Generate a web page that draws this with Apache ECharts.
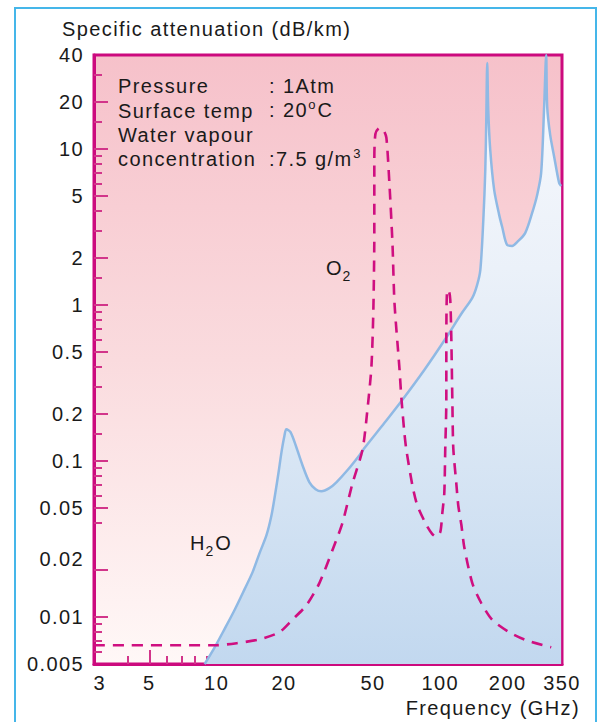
<!DOCTYPE html>
<html>
<head>
<meta charset="utf-8">
<title>Specific attenuation</title>
<script src="https://cdn.jsdelivr.net/npm/echarts@6/dist/echarts.min.js"></script>
<style>
  html, body { margin: 0; padding: 0; background: #fff; }
  #chart { width: 601px; height: 722px; }
  #chart text { letter-spacing: 1.4px; }
</style>
</head>
<body>
<div id="chart"></div>
<script>
// axes: frequency in GHz (x), specific attenuation in dB/km (y), both log
const xLabelValues = [3, 5, 10, 20, 50, 100, 200, 350];
const xMajorTicks = [5, 10, 20, 50, 100, 200, 300];
const xMinorTicks = [4, 6, 7, 8, 9, 15, 30, 40, 60, 70, 80, 90, 150];
const yLabelValues = [0.005, 0.01, 0.02, 0.05, 0.1, 0.2, 0.5, 1, 2, 5, 10, 20, 40];
const yMajorTicks = [0.01, 0.02, 0.05, 0.1, 0.2, 0.5, 1, 2, 5, 10, 20];
const yMinorTicks = [0.006, 0.007, 0.008, 0.009, 0.04, 0.06, 0.07, 0.08, 0.09, 0.15,
  0.3, 0.4, 0.6, 0.7, 0.8, 0.9, 1.5, 3, 4, 6, 7, 8, 9, 15, 30];

// water vapour (solid, filled)
const h2oFreq = [8.84, 9.8, 10.86, 12.03, 13.34, 14.48, 15.56, 16.72, 17.6, 18.3, 18.9,
  19.5, 20.1, 20.5, 21.4, 22.7, 24.2, 26.0, 27.7, 29.4, 31.9, 34.3, 38.5, 43.5, 45.8,
  56.2, 67.6, 84.8, 106, 124, 139, 146, 151, 155.7, 158.9, 160.5, 162.1, 163.8, 167.2,
  174.1, 183.3, 189.1, 199.1, 209.5, 220.6, 239.5, 257.4, 271, 282.4, 291.2, 297.4,
  300.5, 309.9, 323, 339.8, 346.9];
const h2oAtt = [0.005, 0.0064, 0.0084, 0.0111, 0.0151, 0.0194, 0.0257, 0.0336, 0.0451,
  0.0624, 0.0838, 0.114, 0.145, 0.16, 0.153, 0.123, 0.094, 0.073, 0.066, 0.064, 0.067,
  0.073, 0.0875, 0.109, 0.121, 0.175, 0.246, 0.383, 0.614, 0.876, 1.11, 1.34, 1.68, 3.5,
  7.3, 15.3, 35.6, 17.8, 9.85, 5.46, 3.78, 3.16, 2.42, 2.39, 2.53, 2.89, 3.89, 5.07,
  7.02, 18.6, 40, 18.6, 12.3, 8.89, 6.05, 5.79];

// oxygen (dashed)
const o2Freq = [2.83, 10, 12.3, 15.6, 19.1, 21.8, 25.2, 28.8, 33.0, 36.5, 40.5, 44.9,
  47.2, 49.2, 50.2, 50.7, 50.7, 51.3, 53.4, 55.7, 57.4, 59.2, 61.1, 62.4, 65.6, 67.0,
  69.1, 70.5, 75.0, 78.9, 86.6, 92.1, 96.0, 100, 102.1, 104.2, 105.2, 106.4, 106.4,
  107.4, 109.6, 110.8, 111.9, 113.2, 114.3, 117.9, 120.3, 124.2, 128, 139, 152.4,
  170.6, 203.2, 242.1, 313.3];
const o2Att = [0.0066, 0.0066, 0.0068, 0.0072, 0.0080, 0.0096, 0.0119, 0.0165, 0.027,
  0.040, 0.072, 0.118, 0.212, 0.40, 0.93, 2.89, 8.5, 12.5, 13.6, 13.2, 11.8, 6.05, 2.50,
  1.03, 0.40, 0.253, 0.151, 0.118, 0.070, 0.052, 0.039, 0.034, 0.0326, 0.0351, 0.0464,
  0.0624, 0.118, 0.246, 0.597, 1.25, 1.21, 1.08, 0.66, 0.246, 0.121, 0.072, 0.052,
  0.039, 0.028, 0.0165, 0.0123, 0.0096, 0.0080, 0.0071, 0.0064];

const font = "'Liberation Sans', Arial, Helvetica, sans-serif";
const magenta = '#cc0a7e';
const tickColor = '#d2358a';
const ink = '#1a1a1a';

function pairs(xs, ys) {
  return xs.map((x, i) => [x, ys[i]]);
}

const chart = echarts.init(document.getElementById('chart'), null, { renderer: 'svg' });

const xBase = { type: 'log', logBase: 10, min: 2.83, max: 350, position: 'bottom', offset: 0, splitLine: { show: false } };
const yBase = { type: 'log', logBase: 10, min: 0.005, max: 40, position: 'left', offset: 0, splitLine: { show: false } };
const txt = { fontFamily: font, fontSize: 20, color: ink };
// small raised / lowered pieces of the annotations
const mainStyle = { fontFamily: font, fontSize: 20, fill: ink };
const supStyle = (left) => ({ fontFamily: font, fontSize: 13, fill: ink, verticalAlign: 'bottom', padding: [0, 0, 12, left] });
const subStyle = { fontFamily: font, fontSize: 14, fill: ink, verticalAlign: 'top', padding: [16, 2, 0, 1] };

const option = {
  animation: false,
  backgroundColor: '#fff',
  grid: {
    left: 94, right: 39, top: 55, bottom: 58,
    show: true,
    outerBoundsMode: 'none',
    borderColor: magenta,
    borderWidth: 3,
    backgroundColor: {
      type: 'linear', x: 0, y: 0, x2: 0, y2: 1,
      colorStops: [
        { offset: 0, color: '#f6c1ca' },
        { offset: 0.5, color: '#fadbde' },
        { offset: 1, color: '#fff8f7' }
      ]
    }
  },
  xAxis: [
    Object.assign({}, xBase, {
      axisLine: { show: true, onZero: false, lineStyle: { color: magenta, width: 3 } },
      axisTick: { show: true, inside: true, length: 14, customValues: xMajorTicks, lineStyle: { color: tickColor, width: 2 } },
      axisLabel: Object.assign({ customValues: xLabelValues, margin: 9, formatter: v => String(+v.toPrecision(3)) }, txt)
    }),
    Object.assign({}, xBase, {
      axisLine: { show: false },
      axisTick: { show: true, inside: true, length: 8, customValues: xMinorTicks, lineStyle: { color: tickColor, width: 2 } },
      axisLabel: { show: false }
    })
  ],
  yAxis: [
    Object.assign({}, yBase, {
      axisLine: { show: true, onZero: false, lineStyle: { color: magenta, width: 3 } },
      axisTick: { show: true, inside: true, length: 14, customValues: yMajorTicks, lineStyle: { color: tickColor, width: 2 } },
      axisLabel: Object.assign({
        customValues: yLabelValues,
        margin: 10,
        formatter: v => {
          const s = String(+v.toPrecision(3));
          return s === '0.02' ? '{up|' + s + '}' : s;
        },
        rich: { up: Object.assign({ padding: [0, 0, 22, 0] }, txt) }
      }, txt)
    }),
    Object.assign({}, yBase, {
      axisLine: { show: false },
      axisTick: { show: true, inside: true, length: 8, customValues: yMinorTicks, lineStyle: { color: tickColor, width: 2 } },
      axisLabel: { show: false }
    })
  ],
  series: [
    {
      type: 'line',
      name: 'H2O',
      xAxisIndex: 0,
      yAxisIndex: 0,
      data: pairs(h2oFreq, h2oAtt),
      symbol: 'none',
      smooth: 0.3,
      z: 2,
      lineStyle: { color: '#8fb9e4', width: 2.5 },
      areaStyle: {
        origin: 'start',
        opacity: 1,
        color: {
          type: 'linear', x: 0, y: 0, x2: 0, y2: 1,
          colorStops: [
            { offset: 0, color: '#f8f9fd' },
            { offset: 0.35, color: '#ebf1f9' },
            { offset: 0.6, color: '#dce8f5' },
            { offset: 1, color: '#c2d8ef' }
          ]
        }
      }
    },
    {
      type: 'line',
      name: 'O2',
      xAxisIndex: 0,
      yAxisIndex: 0,
      data: pairs(o2Freq, o2Att),
      symbol: 'none',
      smooth: 0.25,
      z: 3,
      lineStyle: { color: '#cf0f80', width: 2.6, type: [11, 8] }
    }
  ],
  graphic: [
    {
      type: 'rect', silent: true, z: -1,
      shape: { x: 15, y: 8, width: 581, height: 740 },
      style: { fill: 'none', stroke: '#45b6e9', lineWidth: 2 }
    },
    {
      type: 'text', x: 62, y: 29,
      style: { text: 'Specific attenuation (dB/km)', font: '20px ' + font, fill: ink, align: 'left', verticalAlign: 'middle' }
    },
    {
      type: 'text', x: 580, y: 708,
      style: { text: 'Frequency (GHz)', font: '20px ' + font, fill: ink, align: 'right', verticalAlign: 'middle' }
    },
    {
      type: 'text', x: 118, y: 74, z: 10,
      style: {
        text: 'Pressure\nSurface temp\nWater vapour\nconcentration',
        font: '20px ' + font, fill: ink, lineHeight: 24.4, align: 'left', verticalAlign: 'top'
      }
    },
    {
      type: 'text', x: 269, y: 86, z: 10,
      style: { text: ': 1Atm', font: '20px ' + font, fill: ink, align: 'left', verticalAlign: 'middle' }
    },
    {
      type: 'text', x: 269, y: 110, z: 10,
      style: {
        text: '{m|: 20}{s|o}{c|C}', align: 'left', verticalAlign: 'middle',
        rich: { m: mainStyle, s: supStyle(6), c: Object.assign({ padding: [0, 0, 0, 2] }, mainStyle) }
      }
    },
    {
      type: 'text', x: 269, y: 159, z: 10,
      style: {
        text: '{m|:7.5 g/m}{s|3}', align: 'left', verticalAlign: 'middle',
        rich: { m: mainStyle, s: supStyle(12) }
      }
    },
    {
      type: 'text', x: 326, y: 268, z: 10,
      style: {
        text: '{m|O}{s|2}', align: 'left', verticalAlign: 'middle',
        rich: { m: mainStyle, s: subStyle }
      }
    },
    {
      type: 'text', x: 190, y: 543, z: 10,
      style: {
        text: '{m|H}{s|2}{m|O}', align: 'left', verticalAlign: 'middle',
        rich: { m: mainStyle, s: subStyle }
      }
    }
  ]
};

chart.setOption(option);
</script>
</body>
</html>
